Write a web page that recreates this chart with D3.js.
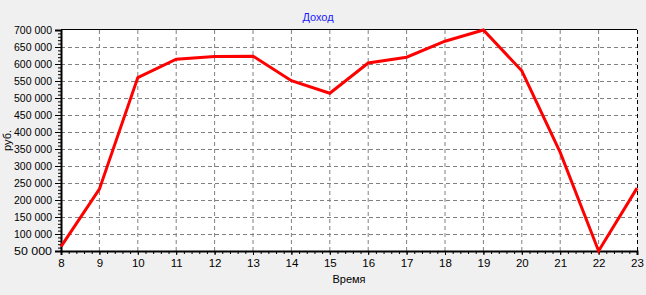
<!DOCTYPE html>
<html>
<head>
<meta charset="utf-8">
<script src="https://cdn.jsdelivr.net/npm/d3@7"></script>
<style>
  body { margin: 0; background: #f0f0f0; }
  svg { display: block; font-family: "Liberation Sans", Arial, sans-serif; }
</style>
</head>
<body>
<div id="chart"></div>
<script>
// hours and income per hour
const hours = [8, 9, 10, 11, 12, 13, 14, 15, 16, 17, 18, 19, 20, 21, 22, 23];
const income = [63000, 232000, 560000, 614000, 622000, 623000, 551000, 514000,
  603000, 620000, 667000, 700000, 580000, 340000, 50000, 235000];
const yTicks = [50000, 100000, 150000, 200000, 250000, 300000, 350000, 400000,
  450000, 500000, 550000, 600000, 650000, 700000];
const chartTitle = "Доход";
const xTitle = "Время";
const yTitle = "руб.";

const W = 646, H = 295;
const margin = { top: 30, right: 9, bottom: 44, left: 61 };
const width = W - margin.left - margin.right;
const height = H - margin.top - margin.bottom;

const svg = d3.select("#chart").append("svg")
  .attr("width", W).attr("height", H);

const x = d3.scaleLinear().domain([8, 23]).range([0, width]);
const y = d3.scaleLinear().domain([50000, 700000]).range([height, 0]);

const fmt = (v) => d3.format(",")(v).replace(/,/g, " ");

// title
svg.append("text")
  .attr("x", 318).attr("y", 21)
  .attr("text-anchor", "middle")
  .attr("font-size", 11)
  .attr("fill", "#1a1aff")
  .text(chartTitle);

const g = svg.append("g")
  .attr("transform", `translate(${margin.left},${margin.top})`);

// plot background
g.append("rect")
  .attr("width", width).attr("height", height)
  .attr("fill", "#fff");

// grid
g.append("g").selectAll("line")
  .data(hours.slice(1, -1))
  .join("line")
  .attr("x1", (d) => x(d)).attr("x2", (d) => x(d))
  .attr("y1", 0).attr("y2", height)
  .attr("stroke", "#808080").attr("stroke-dasharray", "4,3");

g.append("g").selectAll("line")
  .data(yTicks.slice(1, -1))
  .join("line")
  .attr("x1", 0).attr("x2", width)
  .attr("y1", (d) => Math.round(y(d)) + 0.5).attr("y2", (d) => Math.round(y(d)) + 0.5)
  .attr("stroke", "#808080").attr("stroke-dasharray", "4,3");

// borders
g.append("line")
  .attr("x1", 0).attr("x2", width).attr("y1", -0.5).attr("y2", -0.5)
  .attr("stroke", "#000");
g.append("line")
  .attr("x1", width + 0.5).attr("x2", width + 0.5).attr("y1", 0).attr("y2", height)
  .attr("stroke", "#000").attr("stroke-dasharray", "4,3");

// x axis
const xAxis = g.append("g")
  .attr("transform", `translate(0,${height})`)
  .call(d3.axisBottom(x).tickValues(hours).tickSize(4).tickPadding(4).tickFormat(d3.format("d")));
xAxis.select(".domain").attr("stroke-width", 2);
xAxis.selectAll("text").attr("font-size", 11.5).attr("fill", "#000");
g.append("g")
  .attr("transform", `translate(0,${height})`)
  .call(d3.axisBottom(x).ticks(60).tickSize(3).tickFormat(""))
  .call((s) => s.select(".domain").remove());

// y axis
const yAxis = g.append("g")
  .call(d3.axisLeft(y).tickValues(yTicks).tickSize(6).tickPadding(3).tickFormat(fmt));
yAxis.select(".domain").attr("stroke-width", 2);
yAxis.selectAll("text").attr("font-size", 11).attr("fill", "#000")
  .attr("textLength", 38).attr("lengthAdjust", "spacingAndGlyphs");
g.append("g")
  .call(d3.axisLeft(y).ticks(65).tickSize(3).tickFormat(""))
  .call((s) => s.select(".domain").remove());

// axis titles
svg.append("text")
  .attr("x", margin.left + width / 2).attr("y", 283)
  .attr("text-anchor", "middle").attr("font-size", 11)
  .text(xTitle);
svg.append("text")
  .attr("transform", `translate(11,${margin.top + height / 2}) rotate(-90)`)
  .attr("text-anchor", "middle").attr("font-size", 11)
  .text(yTitle);

// line
const line = d3.line()
  .x((d, i) => x(hours[i]))
  .y((d) => y(d));

g.append("path")
  .datum(income)
  .attr("d", line)
  .attr("fill", "none")
  .attr("stroke", "#ff0000")
  .attr("stroke-width", 3);
</script>
</body>
</html>
